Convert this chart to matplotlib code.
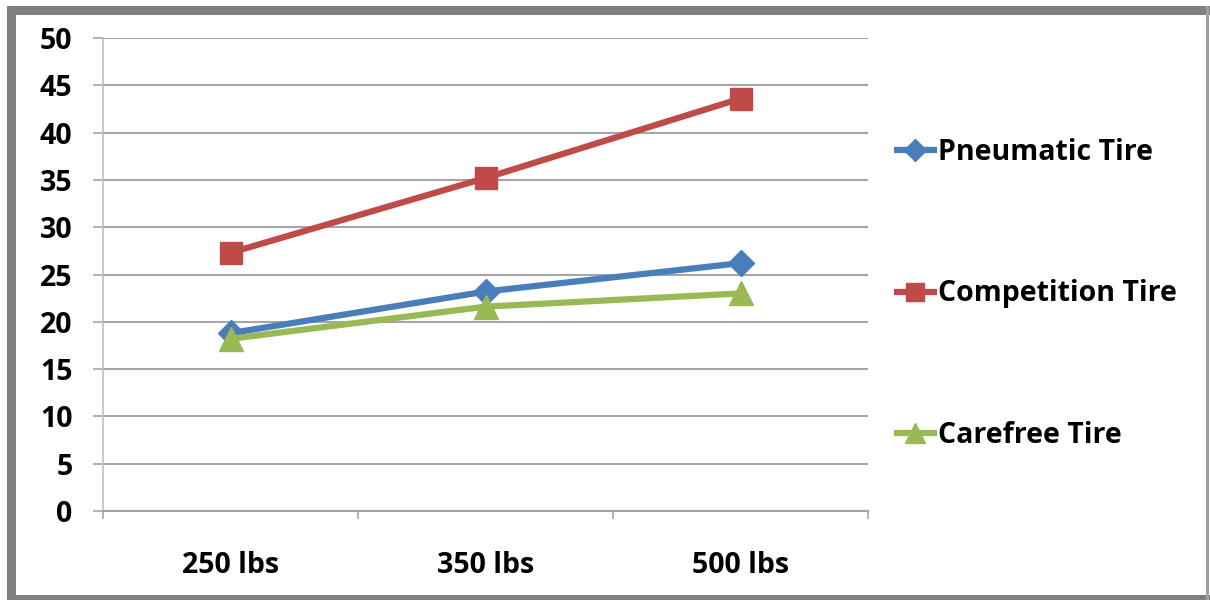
import matplotlib
matplotlib.use("Agg")
import matplotlib.pyplot as plt
from matplotlib.patches import Rectangle

categories = ["250 lbs", "350 lbs", "500 lbs"]
pneumatic = [18.8, 23.2, 26.2]
competition = [27.3, 35.2, 43.6]
carefree = [18.2, 21.6, 23.0]
series_names = ["Pneumatic Tire", "Competition Tire", "Carefree Tire"]
y_ticks = [0, 5, 10, 15, 20, 25, 30, 35, 40, 45, 50]

plt.rcParams['font.family'] = ['Open Sans', 'DejaVu Sans']
plt.rcParams['font.weight'] = 'bold'

FS = 20.5
W, H = 1210, 600
fig = plt.figure(figsize=(W / 100, H / 100), dpi=100)
fig.patch.set_facecolor('white')

ax = fig.add_axes([103 / W, 1 - 511 / H, (868 - 103) / W, (511 - 38) / H])

xs = [i + 0.5 for i in range(len(categories))]
colors = ["#4a7ebb", "#be4b48", "#98b954"]
markers = ["D", "s", "^"]
msizes = [13, 16, 17]
data = [pneumatic, competition, carefree]
order = [1, 0, 2]
handles = {}
for i in order:
    ln, = ax.plot(xs, data[i], color=colors[i], lw=4.5, marker=markers[i],
                  markersize=msizes[i], markeredgecolor=colors[i],
                  markeredgewidth=1, label=series_names[i], zorder=3 + i,
                  solid_capstyle='butt')
    handles[i] = ln

ax.set_xlim(0, 3)
ax.set_ylim(0, 50)
ax.set_yticks(y_ticks)
ax.set_yticklabels([str(v) for v in y_ticks], fontsize=FS, fontweight='bold')
ax.tick_params(axis='y', length=7, width=1.2, color='#a6a6a6', pad=15)

ax.set_xticks([0, 1, 2, 3])
ax.set_xticklabels([])
ax.set_xticks(xs, minor=True)
ax.set_xticklabels(categories, minor=True, fontsize=FS, fontweight='bold')
ax.tick_params(axis='x', which='major', length=6, width=1.2, color='#a6a6a6')
ax.tick_params(axis='x', which='minor', length=0, pad=28.5)

ax.grid(axis='y', color='#a6a6a6', lw=1.5)
ax.set_axisbelow(True)
for s in ['top', 'right']:
    ax.spines[s].set_visible(False)
ax.spines['left'].set_color('#c0c0c0')
ax.spines['left'].set_linewidth(1.2)
ax.spines['bottom'].set_color('#a6a6a6')
ax.spines['bottom'].set_linewidth(1.5)

leg = fig.legend([handles[0], handles[1], handles[2]], series_names,
                 loc='upper left', bbox_to_anchor=(894 / W, 1 - 138 / H),
                 frameon=False, fontsize=FS, labelspacing=3.95,
                 handlelength=1.5, handletextpad=0.05, borderaxespad=0,
                 borderpad=0, markerscale=0.85)
for t in leg.get_texts():
    t.set_fontweight('bold')

# outer frame
fig.patches.append(Rectangle((7 / W, 0), 9 / W, 1 - 6 / H, transform=fig.transFigure,
                             facecolor='#7f7f7f', edgecolor='none'))
fig.patches.append(Rectangle((7 / W, 1 - 15 / H), 1 - 7 / W, 9 / H, transform=fig.transFigure,
                             facecolor='#7f7f7f', edgecolor='none'))
fig.patches.append(Rectangle((7 / W, 0), 1 - 7 / W, 5 / H, transform=fig.transFigure,
                             facecolor='#7f7f7f', edgecolor='none'))
fig.patches.append(Rectangle((1 - 4 / W, 0), 3 / W, 1 - 6 / H, transform=fig.transFigure,
                             facecolor='#a0a0a0', edgecolor='none'))

fig.savefig("out.png", dpi=100, facecolor='white')
